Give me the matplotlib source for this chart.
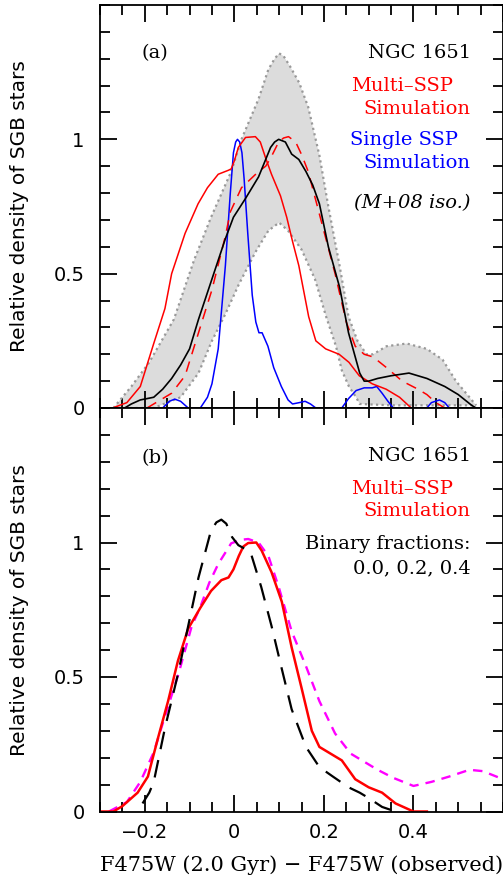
import numpy as np
import matplotlib
matplotlib.use('Agg')
import matplotlib.pyplot as plt
from matplotlib.ticker import MultipleLocator

# ---- panel (a): observed distribution, envelope and simulations ----
obs_x = [-0.245, -0.23, -0.21, -0.18, -0.16, -0.14, -0.12, -0.10, -0.08, -0.06, -0.04, -0.02,
         -0.002, 0.025, 0.054, 0.07, 0.081, 0.09, 0.099, 0.114, 0.128, 0.144, 0.16, 0.175,
         0.19, 0.21, 0.235, 0.255, 0.27, 0.28, 0.29, 0.30, 0.32, 0.35, 0.39, 0.43, 0.47,
         0.50, 0.53, 0.54]
obs_y = [0.0, 0.015, 0.03, 0.04, 0.07, 0.11, 0.16, 0.22, 0.33, 0.43, 0.53, 0.63,
         0.71, 0.78, 0.86, 0.925, 0.97, 0.99, 1.0, 0.99, 0.945, 0.925, 0.88, 0.83,
         0.76, 0.60, 0.45, 0.28, 0.19, 0.13, 0.10, 0.10, 0.11, 0.12, 0.13, 0.11, 0.08,
         0.05, 0.01, 0.0]

env_hi_x = [-0.27, -0.23, -0.19, -0.135, -0.09, -0.052, -0.007, 0.016, 0.054, 0.076, 0.09,
            0.10, 0.11, 0.125, 0.145, 0.165, 0.19, 0.21, 0.235, 0.255, 0.275, 0.295, 0.31,
            0.34, 0.385, 0.43, 0.465, 0.495, 0.52, 0.54]
env_hi_y = [0.0, 0.08, 0.17, 0.33, 0.55, 0.71, 0.88, 1.0, 1.15, 1.26, 1.30,
            1.32, 1.31, 1.27, 1.21, 1.12, 0.94, 0.75, 0.53, 0.34, 0.25, 0.20, 0.20,
            0.23, 0.24, 0.22, 0.18, 0.10, 0.05, 0.01]
env_lo_x = [-0.27, -0.18, -0.12, -0.08, -0.05, -0.02, 0.01, 0.047, 0.076, 0.10, 0.12, 0.15,
            0.18, 0.205, 0.227, 0.24, 0.256, 0.272, 0.28, 0.35, 0.45, 0.54]
env_lo_y = [0.0, 0.0, 0.04, 0.13, 0.25, 0.35, 0.46, 0.58, 0.66, 0.69, 0.66, 0.59,
            0.48, 0.34, 0.23, 0.14, 0.08, 0.04, 0.015, 0.01, 0.01, 0.01]

multi_x = [-0.272, -0.24, -0.21, -0.18, -0.155, -0.14, -0.11, -0.081, -0.06, -0.036, -0.013,
           -0.007, 0.0, 0.009, 0.025, 0.047, 0.058, 0.07, 0.083, 0.103, 0.117, 0.13, 0.144,
           0.166, 0.182, 0.204, 0.234, 0.256, 0.279, 0.308, 0.339, 0.369, 0.395]
multi_y = [0.0, 0.02, 0.08, 0.24, 0.37, 0.50, 0.65, 0.76, 0.82, 0.87, 0.885,
           0.89, 0.92, 0.97, 1.007, 1.01, 0.99, 0.93, 0.87, 0.79, 0.71, 0.62, 0.53,
           0.34, 0.25, 0.22, 0.20, 0.17, 0.12, 0.09, 0.07, 0.04, 0.0]

multi2_x = [-0.195, -0.14, -0.11, -0.08, -0.05, -0.02, -0.009, 0.016, 0.054, 0.07, 0.081,
            0.099, 0.11, 0.121, 0.137, 0.151, 0.165, 0.195, 0.225, 0.25, 0.27, 0.29, 0.31,
            0.34, 0.375, 0.41, 0.43, 0.45, 0.47]
multi2_y = [0.0, 0.055, 0.12, 0.28, 0.44, 0.64, 0.73, 0.82, 0.88, 0.90, 0.93,
            0.99, 1.005, 1.01, 0.99, 0.94, 0.88, 0.69, 0.50, 0.32, 0.23, 0.20, 0.19,
            0.15, 0.10, 0.07, 0.05, 0.02, 0.0]

single_x = [-0.16, -0.145, -0.133, -0.12, -0.103, -0.076, -0.06, -0.05, -0.036, -0.02,
            -0.009, -0.002, 0.003, 0.007, 0.012, 0.017, 0.022, 0.03, 0.04, 0.048, 0.055,
            0.062, 0.075, 0.088, 0.105, 0.12, 0.13, 0.145, 0.158, 0.17, 0.182, 0.24, 0.255,
            0.272, 0.29, 0.308, 0.318, 0.33, 0.343, 0.355, 0.43, 0.44, 0.458, 0.47, 0.48]
single_y = [0.0, 0.025, 0.033, 0.025, 0.0, 0.0, 0.04, 0.09, 0.22, 0.53,
            0.80, 0.95, 0.99, 1.0, 0.99, 0.95, 0.85, 0.65, 0.42, 0.32, 0.28,
            0.28, 0.23, 0.15, 0.08, 0.03, 0.015, 0.02, 0.025, 0.015, 0.0, 0.0, 0.035,
            0.065, 0.075, 0.075, 0.08, 0.055, 0.025, 0.0, 0.0, 0.02, 0.03, 0.02, 0.0]

# ---- panel (b): binary fractions 0.0, 0.2, 0.4 ----
bf00_x = [-0.205, -0.19, -0.18, -0.155, -0.126, -0.103, -0.08, -0.052, -0.04, -0.029,
          -0.018, -0.005, 0.009, 0.036, 0.06, 0.083, 0.106, 0.128, 0.16, 0.19, 0.22, 0.255,
          0.28, 0.30, 0.33, 0.36]
bf00_y = [0.03, 0.07, 0.11, 0.31, 0.51, 0.69, 0.87, 1.045, 1.075, 1.085,
          1.07, 1.02, 0.99, 0.965, 0.835, 0.69, 0.53, 0.38, 0.24, 0.165, 0.13, 0.09,
          0.07, 0.05, 0.017, 0.0]

bf02_x = [-0.30, -0.27, -0.25, -0.216, -0.193, -0.171, -0.148, -0.126, -0.103, -0.076,
          -0.052, -0.029, -0.013, -0.002, 0.01, 0.02, 0.031, 0.049, 0.061, 0.083, 0.106,
          0.128, 0.15, 0.173, 0.19, 0.21, 0.24, 0.27, 0.30, 0.33, 0.36, 0.40, 0.43]
bf02_y = [0.0, 0.0, 0.02, 0.07, 0.13, 0.27, 0.41, 0.56, 0.68, 0.757,
          0.82, 0.86, 0.87, 0.90, 0.95, 0.985, 0.998, 1.0, 0.97, 0.89, 0.78,
          0.61, 0.46, 0.30, 0.24, 0.22, 0.19, 0.12, 0.09, 0.07, 0.03, 0.0, 0.0]

bf04_x = [-0.28, -0.24, -0.21, -0.18, -0.15, -0.125, -0.095, -0.076, -0.056, -0.036, -0.007,
          0.015, 0.031, 0.054, 0.076, 0.099, 0.128, 0.16, 0.19, 0.225, 0.26, 0.295, 0.32,
          0.355, 0.40, 0.44, 0.48, 0.525, 0.555, 0.60]
bf04_y = [0.0, 0.035, 0.11, 0.22, 0.38, 0.51, 0.69, 0.76, 0.85, 0.92, 0.997,
          1.01, 1.013, 1.0, 0.95, 0.835, 0.67, 0.54, 0.41, 0.29, 0.215, 0.18, 0.155,
          0.125, 0.095, 0.11, 0.13, 0.155, 0.15, 0.12]

sans = 'DejaVu Sans'
serif = 'DejaVu Serif'

fig = plt.figure(figsize=(5.03, 8.85), dpi=100)
ax1 = fig.add_axes([100 / 503, 477 / 885, 403 / 503, 403 / 885])
ax2 = fig.add_axes([100 / 503, 73.5 / 885, 403 / 503, 403.5 / 885])


def style_axis(ax):
    ax.set_xlim(-0.3, 0.6)
    ax.set_ylim(0, 1.5)
    ax.xaxis.set_major_locator(MultipleLocator(0.2))
    ax.xaxis.set_minor_locator(MultipleLocator(0.05))
    ax.yaxis.set_major_locator(MultipleLocator(0.5))
    ax.yaxis.set_minor_locator(MultipleLocator(0.1))
    ax.tick_params(which='both', direction='in', top=True, right=True, width=1.3)
    ax.tick_params(which='major', length=12)
    ax.tick_params(which='minor', length=7)
    ax.tick_params(labelsize=14)
    ax.tick_params(axis='y', pad=11)
    for s in ax.spines.values():
        s.set_linewidth(1.3)
    ax.set_yticks([0, 0.5, 1])
    ax.set_yticklabels(['0', '0.5', '1'], fontfamily=sans)
    ax.set_ylabel('Relative density of SGB stars', fontsize=14.5, fontfamily=sans, labelpad=18)


# panel (a)
style_axis(ax1)
ax1.fill(env_hi_x + env_lo_x[::-1], env_hi_y + env_lo_y[::-1], color='#dcdcdc', lw=0)
ax1.plot(env_hi_x, env_hi_y, color='#999999', ls=(0, (1, 1.5)), lw=1.6)
ax1.plot(env_lo_x, env_lo_y, color='#999999', ls=(0, (1, 1.5)), lw=1.6)
ax1.plot(single_x, single_y, color='blue', lw=1.1)
ax1.plot(multi_x, multi_y, color='red', lw=1.1)
ax1.plot(multi2_x, multi2_y, color='red', lw=1.1, dashes=(7, 5))
ax1.plot(obs_x, obs_y, color='black', lw=1.2)
ax1.tick_params(labelbottom=False)

ax1.text(0.104, 0.881, '(a)', transform=ax1.transAxes, fontsize=14, fontfamily=serif, va='center')
kw = dict(transform=ax1.transAxes, fontsize=14, fontfamily=serif, ha='right', va='center')
ax1.text(0.92, 0.881, 'NGC 1651', **kw)
ax1.text(0.875, 0.80, 'Multi\u2013SSP', color='red', **kw)
ax1.text(0.92, 0.743, 'Simulation', color='red', **kw)
ax1.text(0.888, 0.665, 'Single SSP', color='blue', **kw)
ax1.text(0.92, 0.608, 'Simulation', color='blue', **kw)
ax1.text(0.92, 0.508, '(M+08 iso.)', style='italic', **kw)

# panel (b)
style_axis(ax2)
ax2.plot(bf04_x, bf04_y, color='magenta', lw=1.7, dashes=(4, 3))
ax2.plot(bf02_x, bf02_y, color='red', lw=1.8)
ax2.plot(bf00_x, bf00_y, color='black', lw=1.6, dashes=(8, 5))
ax2.set_xticks([-0.2, 0, 0.2, 0.4])
ax2.set_xticklabels(['\u22120.2', '0', '0.2', '0.4'], fontfamily=sans)
ax2.tick_params(axis='x', pad=8)
ax2.set_xlabel('F475W (2.0 Gyr) \u2212 F475W (observed)', fontsize=15, fontfamily=serif, labelpad=10)

ax2.text(0.104, 0.876, '(b)', transform=ax2.transAxes, fontsize=14, fontfamily=serif, va='center')
kw = dict(transform=ax2.transAxes, fontsize=14, fontfamily=serif, ha='right', va='center')
ax2.text(0.92, 0.882, 'NGC 1651', **kw)
ax2.text(0.875, 0.80, 'Multi\u2013SSP', color='red', **kw)
ax2.text(0.92, 0.745, 'Simulation', color='red', **kw)
ax2.text(0.92, 0.664, 'Binary fractions:', **kw)
ax2.text(0.92, 0.602, '0.0, 0.2, 0.4', **kw)

fig.savefig('out.png', dpi=100)
